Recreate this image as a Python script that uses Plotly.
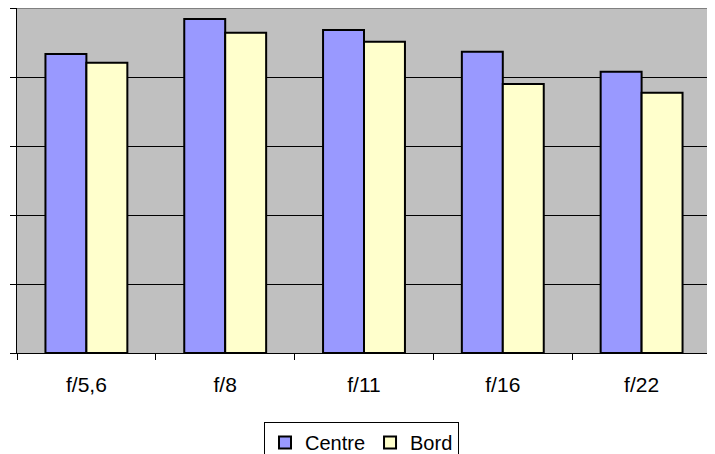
import plotly.graph_objects as go

categories = ["f/5,6", "f/8", "f/11", "f/16", "f/22"]
centre = [86.7, 96.8, 93.6, 87.3, 81.5]
bord = [84.1, 92.8, 90.2, 78.0, 75.4]

W, H = 707, 446  # page body adds an 8px margin

fig = go.Figure()
fig.add_trace(go.Bar(name="Centre", x=categories, y=centre,
                     marker=dict(color="#9999FF", line=dict(color="black", width=2))))
fig.add_trace(go.Bar(name="Bord", x=categories, y=bord,
                     marker=dict(color="#FFFFCC", line=dict(color="black", width=2))))

fig.update_layout(
    width=W, height=H,
    margin=dict(l=9, r=4, t=0, b=101, autoexpand=False),
    paper_bgcolor="white", plot_bgcolor="#C0C0C0",
    barmode="group", bargap=0.41, bargroupgap=0,
    font=dict(family="Liberation Sans, Arial, sans-serif", size=20, color="black"),
    showlegend=True,
    legend=dict(orientation="h", x=0.5, xref="container", xanchor="center",
                y=(H - 414) / H, yref="container", yanchor="top",
                bordercolor="black", borderwidth=1, font=dict(size=20),
                itemwidth=30, tracegroupgap=0),
)
fig.update_xaxes(showline=True, linecolor="black", linewidth=1,
                 ticks="outside", tickson="boundaries", ticklen=6, tickcolor="black",
                 showgrid=False, tickfont=dict(size=21), ticklabelstandoff=13)
fig.update_yaxes(range=[0, 100], dtick=20, showline=True, linecolor="black", linewidth=1,
                 ticks="outside", ticklen=6, tickcolor="black",
                 showticklabels=False, showgrid=True, gridcolor="black", gridwidth=1,
                 zeroline=False)
fig.add_shape(type="line", xref="paper", yref="paper", x0=0, x1=1, y0=1, y1=1,
              line=dict(color="#808080", width=2))
fig.add_shape(type="line", xref="paper", yref="paper", x0=1, x1=1, y0=0, y1=1,
              line=dict(color="#808080", width=2))

fig.write_html("out.html")
